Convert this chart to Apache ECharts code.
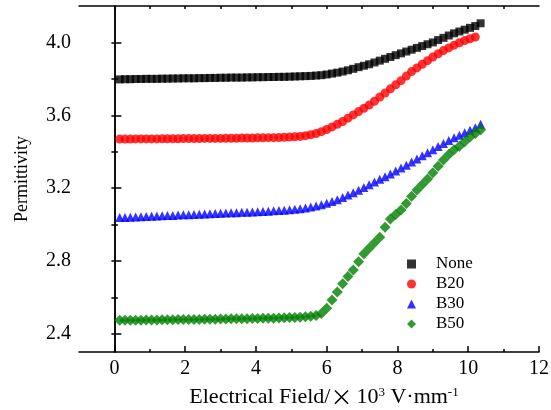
<!DOCTYPE html>
<html><head><meta charset="utf-8">
<script src="https://cdn.jsdelivr.net/npm/echarts@6/dist/echarts.min.js"></script>
<style>html,body{margin:0;padding:0;background:#fff}#c{width:551px;height:410px}</style>
</head><body><div id="c"></div>
<script>
const fieldX = [0.15,0.3,0.45,0.6,0.75,0.9,1.05,1.2,1.35,1.5,
1.65,1.8,1.95,2.1,2.25,2.4,2.55,2.7,2.85,3.0,
3.15,3.3,3.45,3.6,3.75,3.9,4.05,4.2,4.35,4.5,
4.65,4.8,4.95,5.1,5.25,5.4,5.55,5.7,5.85,6.0,
6.15,6.3,6.45,6.6,6.75,6.9,7.05,7.2,7.35,7.5,
7.65,7.8,7.95,8.1,8.25,8.4,8.55,8.7,8.85,9.0,
9.15,9.3,9.45,9.6,9.75,9.9,10.05,10.2,10.35];
const noneY = [3.797,3.798,3.798,3.799,3.799,3.800,3.800,3.800,3.801,3.801,
3.802,3.802,3.803,3.803,3.803,3.804,3.804,3.805,3.805,3.806,
3.806,3.807,3.807,3.807,3.808,3.808,3.809,3.809,3.810,3.810,
3.811,3.811,3.812,3.813,3.814,3.815,3.816,3.818,3.820,3.824,
3.829,3.834,3.840,3.847,3.855,3.864,3.872,3.880,3.890,3.900,
3.910,3.920,3.930,3.940,3.950,3.960,3.970,3.980,3.990,4.000,
4.013,4.025,4.038,4.050,4.060,4.070,4.080,4.090,4.105];
const b20Y = [3.469,3.469,3.469,3.470,3.470,3.470,3.470,3.470,3.471,3.471,
3.471,3.471,3.472,3.472,3.472,3.472,3.473,3.473,3.473,3.473,
3.474,3.474,3.474,3.475,3.475,3.475,3.476,3.476,3.477,3.477,
3.478,3.479,3.480,3.482,3.484,3.488,3.493,3.500,3.510,3.522,
3.536,3.550,3.566,3.584,3.602,3.620,3.638,3.656,3.677,3.700,
3.722,3.745,3.767,3.790,3.815,3.840,3.860,3.880,3.900,3.920,
3.938,3.955,3.970,3.985,3.998,4.010,4.020,4.030];
const b30Y = [3.038,3.039,3.040,3.042,3.043,3.044,3.045,3.047,3.048,3.049,
3.050,3.052,3.053,3.054,3.055,3.057,3.058,3.059,3.060,3.062,
3.063,3.064,3.065,3.067,3.068,3.069,3.070,3.072,3.073,3.075,
3.077,3.079,3.081,3.084,3.087,3.091,3.096,3.102,3.109,3.117,
3.126,3.136,3.149,3.162,3.175,3.188,3.203,3.218,3.233,3.248,
3.263,3.278,3.294,3.310,3.326,3.343,3.360,3.377,3.394,3.411,
3.428,3.445,3.461,3.476,3.490,3.504,3.518,3.532,3.550];
const b50Y = [2.474,2.474,2.475,2.475,2.475,2.476,2.476,2.476,2.477,2.477,
2.477,2.478,2.478,2.478,2.479,2.479,2.480,2.480,2.480,2.481,
2.481,2.482,2.482,2.483,2.483,2.484,2.484,2.485,2.485,2.486,
2.487,2.488,2.489,2.490,2.491,2.493,2.496,2.500,2.512,2.540,
2.585,2.630,2.675,2.715,2.750,2.795,2.840,2.870,2.900,2.930,
2.985,3.030,3.055,3.080,3.115,3.155,3.190,3.220,3.250,3.285,
3.320,3.355,3.385,3.410,3.430,3.455,3.480,3.500,3.520];
const seriesNames = ['None','B20','B30','B50'];
const xTickLabels = [0,2,4,6,8,10,12];
const xMinorTicks = [1,3,5,7,9,11];
const xTopTicks = [0,1,2,3,4,5,6,7,8,9,10,11];
const yTickLabels = [2.4,2.8,3.2,3.6,4.0];
const yMinorTicks = [2.6,3.0,3.4,3.8];
const yRightTicks = [2.4,2.6,2.8,3.0,3.2,3.4,3.6,3.8,4.0];

const SERIF = '"Liberation Serif","Times New Roman",serif';
const pairs = ys => ys.map((y,i)=>[fieldX[i], y]);
const X_MIN=-1, X_MAX=12, Y_MIN=2.3, Y_MAX=4.2;
const lineStyle = {color:'#000', width:1.5};

const chart = echarts.init(document.getElementById('c'), null, {renderer:'canvas'});
const baseX = {type:'value', min:X_MIN, max:X_MAX, splitLine:{show:false}};
const baseY = {type:'value', min:Y_MIN, max:Y_MAX, splitLine:{show:false}};
chart.setOption({
  animation:false,
  backgroundColor:'#fff',
  grid:{left:79, right:12, top:6, bottom:58, containLabel:false, outerBoundsMode:'none'},
  legend:{
    orient:'vertical', left:402, top:249,
    itemWidth:9, itemHeight:9, itemGap:0,
    symbolKeepAspect:true,
    data:seriesNames,
    textStyle:{fontFamily:SERIF, fontSize:17, color:'#000', lineHeight:20, padding:[0,0,0,15]}
  },
  xAxis:[
    Object.assign({}, baseX, {
      position:'bottom',
      axisLine:{show:true, lineStyle},
      axisTick:{show:true, inside:true, length:6, customValues:xTickLabels, lineStyle},
      axisLabel:{customValues:xTickLabels, fontFamily:SERIF, fontSize:20, color:'#000', margin:7},
      name:'Electrical Field/{x|×}10{sup|3} V·mm{sup|-1}',
      nameLocation:'middle', nameGap:34,
      nameTextStyle:{fontFamily:SERIF, fontSize:22, color:'#000', padding:[0,0,0,30],
        rich:{
          sup:{fontFamily:SERIF, fontSize:13, color:'#000', verticalAlign:'top', padding:[0,0,9,0]},
          x:{fontFamily:'"Noto Sans CJK SC"', fontSize:22, color:'#000', padding:[0,4,0,0]}
        }}
    }),
    Object.assign({}, baseX, {
      position:'bottom',
      axisLine:{show:false},
      axisTick:{show:true, inside:true, length:3, customValues:xMinorTicks, lineStyle},
      axisLabel:{show:false}
    }),
    Object.assign({}, baseX, {
      position:'top',
      axisLine:{show:true, lineStyle},
      axisTick:{show:true, inside:true, length:3, customValues:xTopTicks, lineStyle},
      axisLabel:{show:false}
    })
  ],
  yAxis:[
    Object.assign({}, baseY, {
      position:'left',
      axisLine:{show:true, lineStyle},
      axisTick:{show:true, inside:true, length:7, customValues:yTickLabels, lineStyle},
      axisLabel:{customValues:yTickLabels, fontFamily:SERIF, fontSize:20, color:'#000', margin:8,
        formatter:v=>Number(v).toFixed(1)},
      name:'Permittivity', nameLocation:'middle', nameGap:48,
      nameTextStyle:{fontFamily:SERIF, fontSize:18, color:'#000'}
    }),
    Object.assign({}, baseY, {
      position:'left',
      axisLine:{show:false},
      axisTick:{show:true, inside:true, length:3.5, customValues:yMinorTicks, lineStyle},
      axisLabel:{show:false}
    }),
    Object.assign({}, baseY, {
      position:'right',
      axisLine:{show:true, lineStyle},
      axisTick:{show:true, inside:true, length:3, customValues:yRightTicks, lineStyle},
      axisLabel:{show:false}
    })
  ],
  series:[
    {name:'None', type:'scatter', symbol:'rect', symbolSize:8, itemStyle:{color:'#000000'}, data:pairs(noneY)},
    {name:'B20', type:'scatter', symbol:'circle', symbolSize:9, itemStyle:{color:'#ff0000'}, data:pairs(b20Y)},
    {name:'B30', type:'scatter', symbol:'triangle', symbolSize:9, itemStyle:{color:'#0000ff'}, data:pairs(b30Y)},
    {name:'B50', type:'scatter', symbol:'diamond', symbolSize:11, itemStyle:{color:'#008000'}, data:pairs(b50Y)}
  ]
});
</script>
</body></html>
